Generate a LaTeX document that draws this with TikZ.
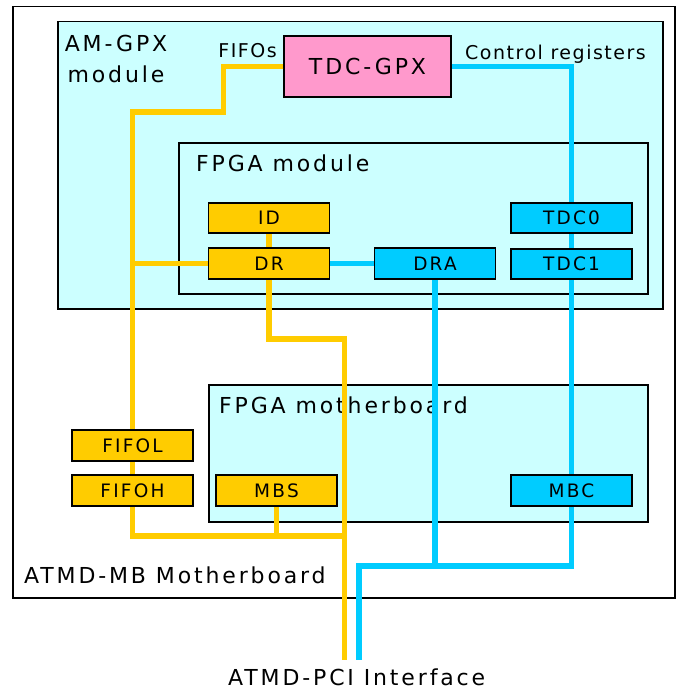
\documentclass[tikz,border=0pt]{standalone}
\usepackage{fontspec}
\setmainfont{DejaVu Sans}
\definecolor{lcyan}{HTML}{CCFFFF}
\definecolor{cyanb}{HTML}{00CCFF}
\definecolor{yel}{HTML}{FFCC00}
\definecolor{pinkb}{HTML}{FF99CC}
\newcommand{\biglbl}{\fontsize{22}{26}\selectfont\addfontfeatures{LetterSpace=13}}
\newcommand{\boxlbl}{\fontsize{18.5}{22}\selectfont\addfontfeatures{LetterSpace=12}}
\newcommand{\sigfont}{\fontsize{19}{22}\selectfont\addfontfeatures{LetterSpace=8}}
\begin{document}
\begin{tikzpicture}[x=1pt,y=-1pt,
  region/.style={draw=black,line width=1.5pt,anchor=north west,inner sep=0pt},
  blk/.style={draw=black,line width=1.5pt,inner sep=0pt,minimum width=121pt,minimum height=30pt,font=\boxlbl},
  yblk/.style={blk,fill=yel},
  cblk/.style={blk,fill=cyanb},
  lbl/.style={inner sep=0pt,anchor=base west,font=\biglbl},
  yline/.style={draw=yel,line width=5.5pt},
  cline/.style={draw=cyanb,line width=5.5pt}]
\useasboundingbox (0,0) rectangle (677,690);
% regions
\node[region,fill=white,minimum width=662pt,minimum height=591pt] (mb) at (12,6) {};
\node[region,fill=lcyan,minimum width=605pt,minimum height=287pt] (amgpx) at (57,21) {};
\node[region,fill=lcyan,minimum width=469pt,minimum height=151pt] (fpgam) at (178,142) {};
\node[region,fill=lcyan,minimum width=439pt,minimum height=137pt] (fpgamb) at (208,384) {};
% region labels
\node[lbl,anchor=base] (amgpxA) at (116,52) {AM-GPX};
\node[lbl,anchor=base] (amgpxB) at (116,83) {module};
\node[lbl] (fpgamlbl) at (196,171) {FPGA module};
\node[lbl] (fpgamblbl) at (219,413) {FPGA motherboard};
\node[lbl] (mblbl) at (24,583) {ATMD-MB Motherboard};
\node[lbl] (pcilbl) at (228,685) {ATMD-PCI Interface};
\node[inner sep=0pt,anchor=base east,font=\sigfont] (fifos) at (277,58) {FIFOs};
\node[inner sep=0pt,anchor=base west,font=\sigfont] (ctrl) at (465,60) {Control registers};
% coordinates
\coordinate (yj) at (344.5,536);
\coordinate (py) at (344.5,660);
\coordinate (pb) at (359,660);
% TDC-GPX
\node[draw=black,line width=1.5pt,fill=pinkb,minimum width=167pt,minimum height=61pt,inner sep=0pt,font=\fontsize{22}{26}\selectfont\addfontfeatures{LetterSpace=13}] (tdcgpx) at (367.5,66.5) {TDC-GPX};
% block positions
\path
  coordinate (id) at (269,218)
  coordinate (dr) at (269,263.5)
  coordinate (dra) at (435,263.5)
  coordinate (tdc0) at (571.5,218)
  coordinate (tdc1) at (571.5,264)
  coordinate (fifol) at (132.5,445.5)
  coordinate (fifoh) at (132.5,490.5)
  coordinate (mbs) at (276.5,490.5)
  coordinate (mbc) at (571.5,490.5);
% yellow connectors
\draw[yline] (tdcgpx.west) -- ++(-60,0) -- ++(0,45.5) -| (fifol) -- (fifoh) |- (yj);
\draw[yline] (dr) -- (dr -| fifol);
\draw[yline] (id) -- (dr);
\draw[yline] (dr) -- ++(0,75.5) -| (py);
\draw[yline] (mbs) -- (mbs |- yj);
% cyan connectors
\draw[cline] (tdcgpx.east) -| (mbc) -- ++(0,75.5) -| (pb);
\draw[cline] (dr) -- (dra);
\draw[cline] (dra) -- ++(0,302.5);
% blocks on top
\node[yblk,minimum height=30pt] (idn) at (id) {ID};
\node[yblk,minimum height=31pt] (drn) at (dr) {DR};
\node[cblk,minimum height=31pt] (dran) at (dra) {DRA};
\node[cblk] (tdc0n) at (tdc0) {TDC0};
\node[cblk] (tdc1n) at (tdc1) {TDC1};
\node[yblk,minimum height=31pt] (fifoln) at (fifol) {FIFOL};
\node[yblk,minimum height=31pt] (fifohn) at (fifoh) {FIFOH};
\node[yblk,minimum height=31pt] (mbsn) at (mbs) {MBS};
\node[cblk,minimum height=31pt] (mbcn) at (mbc) {MBC};
\end{tikzpicture}
\end{document}
